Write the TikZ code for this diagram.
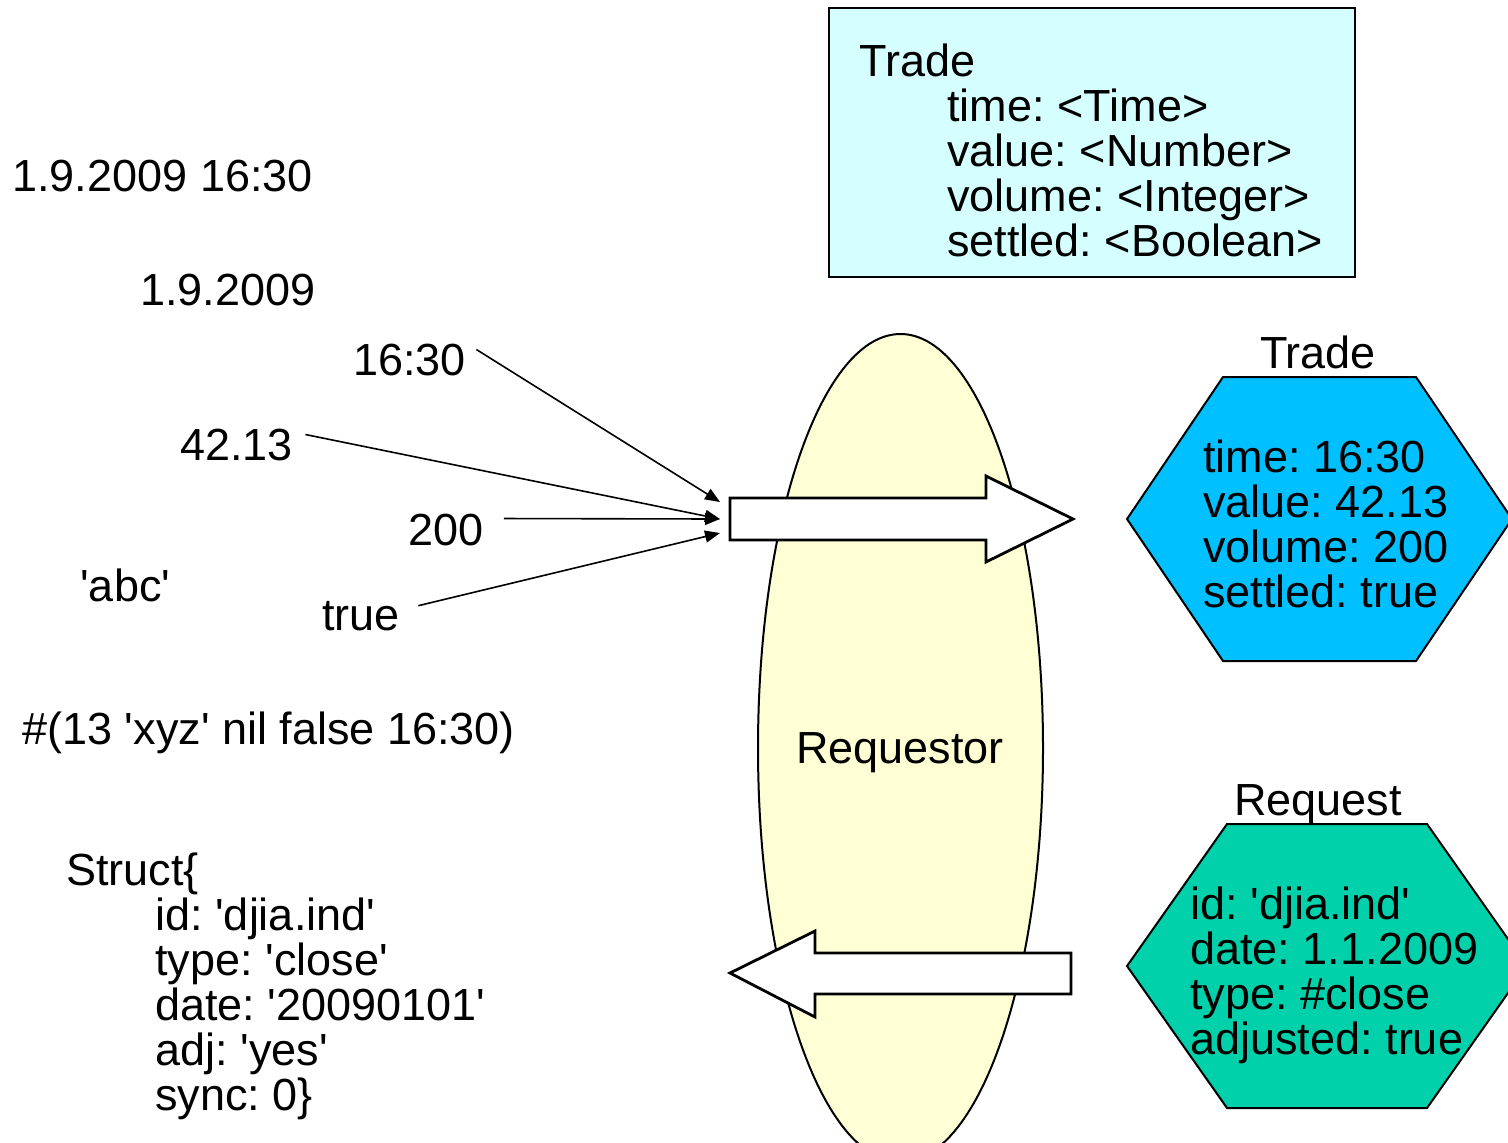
\documentclass[tikz,border=0pt]{standalone}
\usepackage{fontspec}
\setmainfont{Liberation Sans}[Ligatures=TeXOff]
\usetikzlibrary{arrows.meta}
\definecolor{typebox}{RGB}{213,255,255}
\definecolor{reqfill}{RGB}{255,255,213}
\definecolor{tradefill}{RGB}{0,192,255}
\definecolor{requestfill}{RGB}{0,209,170}
\newcommand\diagfont{\fontsize{22.5}{22.5}\selectfont\frenchspacing\lineskiplimit=-40pt\relax}
\begin{document}
\begin{tikzpicture}[x=0.5pt,y=-0.5pt,
  txt/.style={inner sep=0pt, anchor=base west, font=\diagfont},
  ctxt/.style={txt, anchor=base},
  feed/.style={line width=0.8pt, -{Triangle[length=7.5pt,width=6pt]}},
  outl/.style={draw, line width=1pt},
  bigarrow/.style={draw, fill=white, line width=1.4pt, line join=miter}]
\useasboundingbox (0,0) rectangle (1508,1142);
\clip (0,0) rectangle (1508,1142);

% raw values on the left
\node[txt] (dt)   at (12,191)  {1.9.2009 16:30};
\node[txt] (date) at (140,305) {1.9.2009};
\node[txt] (t1630) at (353,375) {16:30};
\node[txt] (t4213) at (180,460) {42.13};
\node[txt] (t200)  at (408,545) {200};
\node[txt] (abc)   at (80,601)  {'abc'};
\node[txt] (ttrue) at (322,630) {true};
\node[txt] (arr)   at (22,744)  {\#(13 'xyz' nil false 16:30)};
\node[txt] (struct) at (66,885) {\vtop{\hbox{Struct\{}
  \hbox{\hspace{44.5pt}id: 'djia.ind'}
  \hbox{\hspace{44.5pt}type: 'close'}
  \hbox{\hspace{44.5pt}date: '20090101'}
  \hbox{\hspace{44.5pt}adj: 'yes'}
  \hbox{\hspace{44.5pt}sync: 0\}}}};

% type description
\draw[outl, fill=typebox] (829,8) rectangle (1355,277);
\node[txt] (ttype) at (859,76) {\vtop{\hbox{Trade}
  \hbox{\hspace{44pt}time: <Time>}
  \hbox{\hspace{44pt}value: <Number>}
  \hbox{\hspace{44pt}volume: <Integer>}
  \hbox{\hspace{44pt}settled: <Boolean>}}};

% requestor
\draw[outl, fill=reqfill] (900.5,748) ellipse [x radius=71.25pt, y radius=207pt];
\node[ctxt] (req) at (900,763) {Requestor};

% conversion arrows
\draw[bigarrow] (730,498) -- (986,498) -- (986,476) -- (1073,519)
  -- (986,562) -- (986,540) -- (730,540) -- cycle;
\coordinate (tail) at (720,519);
\draw[bigarrow] (1071,953) -- (815,953) -- (815,931) -- (730,973)
  -- (815,1017) -- (815,994) -- (1071,994) -- cycle;

% inputs
\draw[feed] ([xshift=5pt,yshift=5pt]t1630.east) -- ([yshift=8.5pt]tail);
\draw[feed] ([xshift=6pt,yshift=5pt]t4213.east) -- (tail);
\draw[feed] ([xshift=10pt,yshift=5.5pt]t200.east) -- (tail);
\draw[feed] ([xshift=9pt,yshift=5pt]ttrue.east) -- ([yshift=-7pt]tail);

% trade object
\draw[outl, fill=tradefill] (1223,377) -- (1416,377) -- (1512,519)
  -- (1416,661) -- (1223,661) -- (1127,519) -- cycle;
\node[ctxt] (tradelbl) at (1318,368) {Trade};
\node[txt] (trade) at (1203,472) {\vtop{\hbox{time: 16:30}
  \hbox{value: 42.13}\hbox{volume: 200}\hbox{settled: true}}};

% request object
\draw[outl, fill=requestfill] (1227,824) -- (1427,824) -- (1527,966)
  -- (1427,1108) -- (1227,1108) -- (1127,966) -- cycle;
\node[ctxt] (requestlbl) at (1318,815) {Request};
\node[txt] (request) at (1190,919) {\vtop{\hbox{id: 'djia.ind'}
  \hbox{date: 1.1.2009}\hbox{type: \#close}\hbox{adjusted: true}}};
\end{tikzpicture}
\end{document}
